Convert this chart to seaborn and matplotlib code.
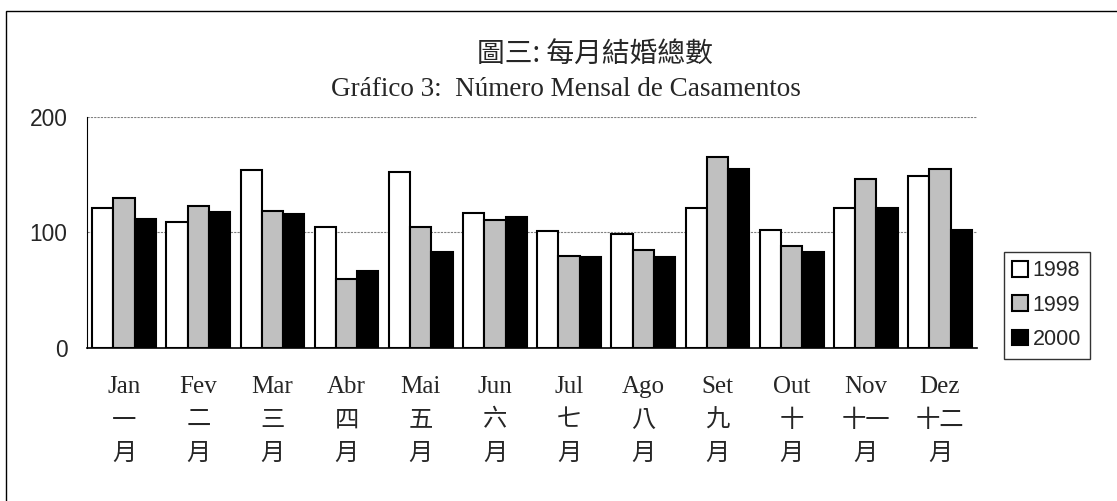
import matplotlib
matplotlib.use("Agg")
import matplotlib.pyplot as plt
import matplotlib.patches as mpatches
import matplotlib.transforms as mtransforms
import pandas as pd
import seaborn as sns

# data
months_pt = ['Jan', 'Fev', 'Mar', 'Abr', 'Mai', 'Jun', 'Jul', 'Ago', 'Set', 'Out', 'Nov', 'Dez']
months_zh = ['一', '二', '三', '四', '五', '六', '七', '八', '九', '十', '十一', '十二']
years = ['1998', '1999', '2000']
v1998 = [121, 109, 154, 105, 152, 117, 101, 99, 121, 102, 121, 149]
v1999 = [130, 123, 119, 60, 105, 111, 80, 85, 165, 88, 146, 155]
v2000 = [112, 118, 116, 67, 83, 113, 79, 79, 155, 83, 121, 102]

df = pd.DataFrame({'month': months_pt * 3,
                   'year': [y for y in years for _ in months_pt],
                   'value': v1998 + v1999 + v2000})

sns.set_style('white')
serif = ['Liberation Serif', 'Noto Sans CJK TC']
sans = ['Liberation Sans', 'Noto Sans CJK TC']
cjk = ['Noto Sans CJK TC', 'DejaVu Sans']
plt.rcParams['font.family'] = sans

fig = plt.figure(figsize=(11.17, 5.01), dpi=100)
ax = fig.add_axes([0.0779, 0.3054, 0.7968, 0.4611])

sns.barplot(data=df, x='month', y='value', hue='year', order=months_pt,
            palette=['white', '#c0c0c0', 'black'], edgecolor='black',
            linewidth=1.5, width=0.86, saturation=1, ax=ax)

ax.set_ylim(0, 200)
ax.set_xlim(-0.5, len(months_pt) - 0.5)
ax.set_yticks([0, 100, 200])
ax.yaxis.grid(True, color='#808080', linestyle=(0, (2, 1)), linewidth=0.8)
ax.set_axisbelow(True)
ax.tick_params(axis='y', direction='in', length=4, width=1, labelsize=16.4, pad=14)
for s in ['top', 'right']:
    ax.spines[s].set_visible(False)
ax.spines['left'].set_color('black')
ax.spines['bottom'].set_color('black')
ax.spines['bottom'].set_linewidth(1.2)

# ticks at category boundaries, labels at centres
ax.set_xticks([i - 0.5 for i in range(len(months_pt) + 1)])
ax.set_xticklabels([])
ax.tick_params(axis='x', which='major', direction='inout', length=12, width=1, color='#404040')
ax.set_xticks(range(len(months_pt)), minor=True)
ax.set_xticklabels(months_pt, minor=True, fontsize=18, family=serif)
ax.tick_params(axis='x', which='minor', length=0, pad=20)
ax.set_xlabel('')
ax.set_ylabel('')

trans = mtransforms.blended_transform_factory(ax.transData, ax.transAxes)
for i, zh in enumerate(months_zh):
    ax.text(i, -0.31, zh, transform=trans, ha='center', va='center', fontsize=17.5, family=cjk)
    ax.text(i, -0.455, '月', transform=trans, ha='center', va='center', fontsize=17.5, family=cjk)

ax.text(0.571, 1.268, '圖三: 每月結婚總數', transform=ax.transAxes, ha='center', va='center',
        fontsize=20, family=cjk)
ax.text(0.538, 1.121, 'Gráfico 3:  Número Mensal de Casamentos', transform=ax.transAxes,
        ha='center', va='center', fontsize=19.5, family=serif)

leg = ax.legend(loc='upper left', bbox_to_anchor=(1.030, 0.417), frameon=True, fancybox=False,
                prop={'family': sans, 'size': 15.5}, handlelength=0.75, handleheight=0.75,
                handletextpad=0.2, labelspacing=0.62, borderpad=0.4, borderaxespad=0)
leg.get_frame().set_edgecolor('black')
leg.get_frame().set_linewidth(1)

fig.patches.append(mpatches.Rectangle((6 / 1117, -0.1), 1.2, 1.1 - 11 / 501, transform=fig.transFigure,
                                      fill=False, edgecolor='black', linewidth=1))

fig.savefig('out.png', dpi=100)
